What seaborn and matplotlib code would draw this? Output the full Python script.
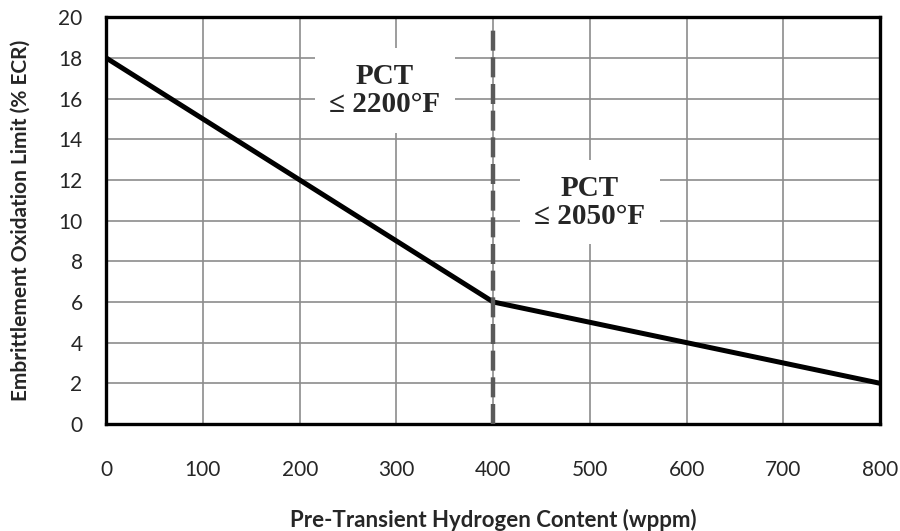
import pandas as pd
import seaborn as sns
import matplotlib.pyplot as plt

# dados
hidrogenio = [0, 400, 800]
limite_ecr = [18, 6, 2]
x_ticks = [0, 100, 200, 300, 400, 500, 600, 700, 800]
y_ticks = [0, 2, 4, 6, 8, 10, 12, 14, 16, 18, 20]

df = pd.DataFrame({'H': hidrogenio, 'ECR': limite_ecr})

sns.set_style('white')
plt.rcParams['font.family'] = ['Lato', 'DejaVu Sans']

fig = plt.figure(figsize=(9, 5.31), dpi=100)
ax = fig.add_axes([0.118, 0.2015, 0.86, 0.766])

sns.lineplot(data=df, x='H', y='ECR', color='black', linewidth=3.6, ax=ax)

# linha tracejada em 400 wppm
ax.plot([400, 400], [0, 19.5], color='#5a5a5a', linewidth=3.2, linestyle=(0, (4.5, 1.5)), zorder=3)

ax.set_xlim(0, 800)
ax.set_ylim(0, 20)
ax.set_xticks(x_ticks)
ax.set_yticks(y_ticks)
ax.grid(True, color='#8c8c8c', linewidth=1.2)
ax.set_axisbelow(True)
for s in ax.spines.values():
    s.set_color('black')
    s.set_linewidth(2.4)
ax.tick_params(axis='both', direction='out', width=1, labelsize=15, color='black')
ax.tick_params(axis='x', length=5, pad=21)
ax.tick_params(axis='y', length=8, pad=9)

ax.set_xlabel('Pre-Transient Hydrogen Content (wppm)', fontsize=16, fontweight='bold', labelpad=21)
ax.set_ylabel('Embrittlement Oxidation Limit (% ECR)', fontsize=15, fontweight='bold', labelpad=20)

caixa = dict(facecolor='white', edgecolor='none', boxstyle='square,pad=0.5')
ax.text(288, 16.4, 'PCT\n≤ 2200°F', ha='center', va='center', fontsize=21, fontweight='bold',
        family=['Liberation Serif', 'DejaVu Serif'], linespacing=1.05, bbox=caixa, zorder=4)
ax.text(500, 10.9, 'PCT\n≤ 2050°F', ha='center', va='center', fontsize=21, fontweight='bold',
        family=['Liberation Serif', 'DejaVu Serif'], linespacing=1.05, bbox=caixa, zorder=4)

plt.savefig('out.png', dpi=100)
